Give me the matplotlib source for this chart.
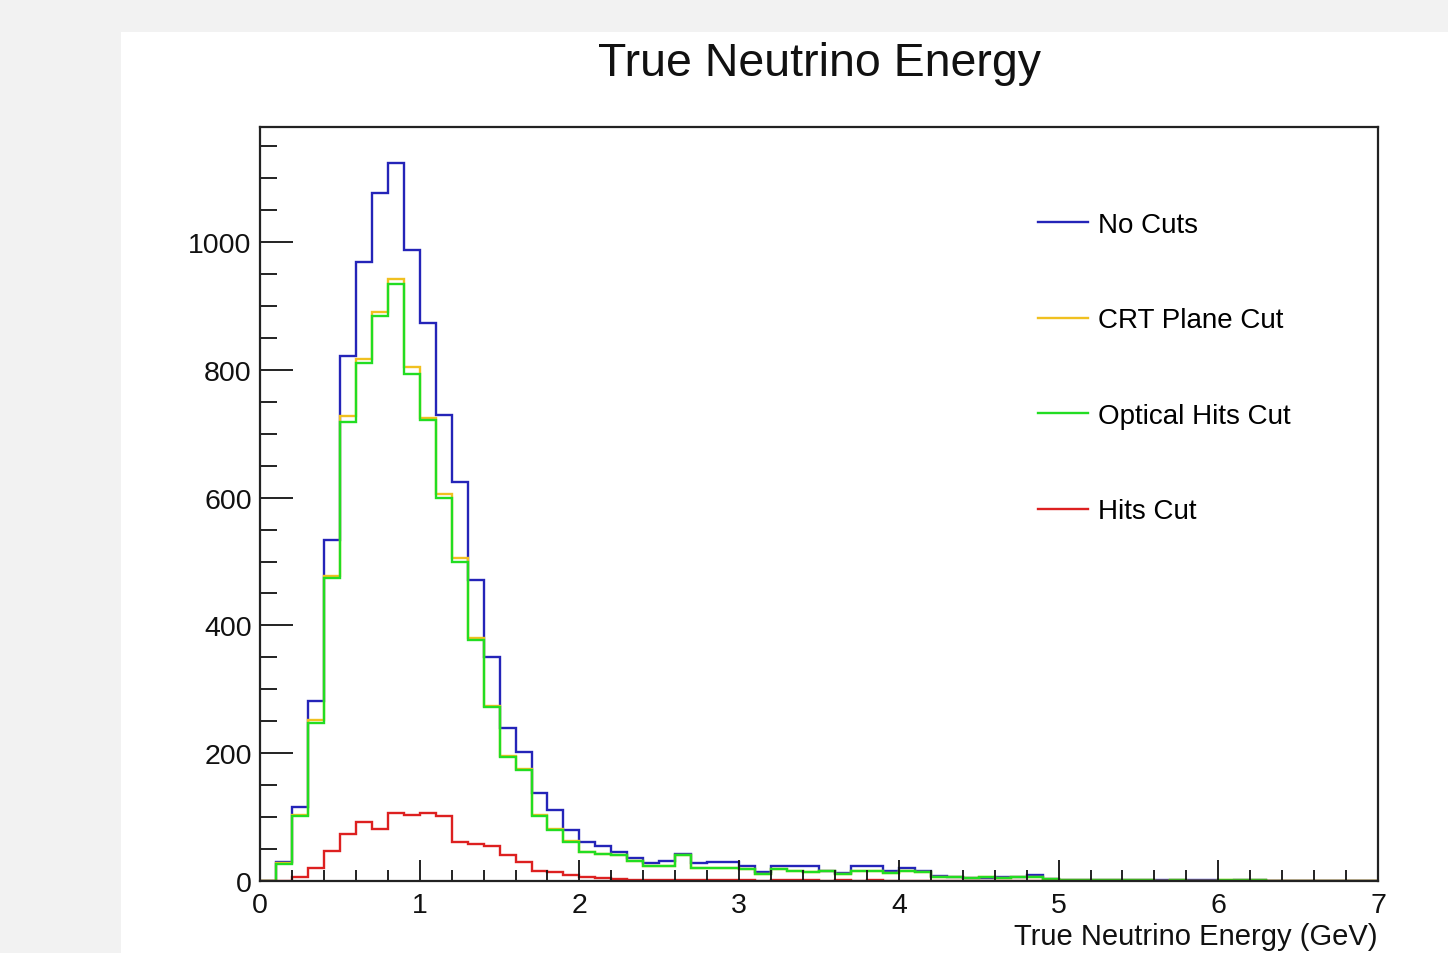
import numpy as np
from matplotlib import pyplot as plt
from matplotlib.ticker import MultipleLocator
from matplotlib.patches import Rectangle

plt.rcParams['font.family'] = ['Liberation Sans', 'DejaVu Sans']

# bins of 0.1 GeV from 0 to 7
edges = np.round(np.arange(0, 7.01, 0.1), 2)

no_cuts = [0, 29, 116, 282, 534, 822, 969, 1077, 1123, 987,
           873, 730, 625, 471, 351, 239, 202, 138, 111, 80,
           61, 54, 45, 36, 28, 32, 42, 28, 29, 29,
           24, 14, 23, 23, 23, 16, 12, 23, 23, 16,
           20, 15, 8, 6, 5, 5, 6, 7, 10, 3,
           2, 2, 1, 1, 1, 1, 2, 1, 2, 2,
           0, 1, 1, 0, 0, 0, 0, 0, 0, 0]

crt_cut = [0, 28, 103, 252, 478, 727, 817, 891, 942, 804,
           725, 605, 505, 380, 274, 196, 175, 103, 82, 62,
           46, 42, 40, 32, 24, 24, 40, 21, 21, 21,
           18, 11, 18, 16, 14, 16, 11, 16, 16, 12,
           16, 14, 7, 6, 5, 6, 5, 6, 6, 3,
           1, 1, 2, 2, 1, 1, 0, 1, 0, 0,
           1, 1, 1, 0, 0, 0, 0, 0, 0, 0]

optical_cut = [0, 27, 101, 248, 474, 719, 810, 885, 935, 793,
               721, 599, 499, 377, 272, 194, 173, 101, 80, 61,
               45, 42, 40, 32, 24, 24, 40, 21, 21, 21,
               18, 11, 18, 16, 14, 16, 11, 16, 16, 12,
               16, 14, 7, 6, 5, 6, 5, 6, 6, 3,
               1, 1, 2, 2, 1, 1, 0, 1, 0, 0,
               1, 1, 1, 0, 0, 0, 0, 0, 0, 0]

hits_cut = [0, 0, 6, 20, 47, 73, 92, 82, 106, 103,
            107, 101, 61, 58, 54, 41, 29, 16, 14, 9,
            6, 4, 3, 2, 2, 1, 1, 2, 1, 1,
            1, 0, 1, 1, 1, 0, 1, 0, 1, 0,
            0, 0, 0, 0, 0, 0, 0, 0, 0, 0,
            0, 0, 0, 0, 0, 0, 0, 0, 0, 0,
            0, 0, 0, 0, 0, 0, 0, 0, 0, 0]

labels = ["No Cuts", "CRT Plane Cut", "Optical Hits Cut", "Hits Cut"]
colores = ['#2424b8', '#f0c020', '#22dd22', '#dd2020']

fig = plt.figure(figsize=(14.48, 9.54), dpi=100)
fig.patch.set_facecolor('#f2f2f2')
# lienzo blanco
fig.patches.append(Rectangle((121/1448, 0), 1, 1 - 33/954, transform=fig.transFigure,
                             facecolor='white', edgecolor='none', zorder=-5))

ax = fig.add_axes([260/1448, 1 - 882/954, (1378-260)/1448, (882-128)/954])
ax.set_facecolor('white')

series = [no_cuts, crt_cut, optical_cut, hits_cut]
for vals, lab, col in zip(series, labels, colores):
    ax.stairs(vals, edges, color=col, linewidth=1.7, label=lab)

ax.set_xlim(0, 7)
ax.set_ylim(0, 1180)
ax.set_xticks([0, 1, 2, 3, 4, 5, 6, 7])
ax.xaxis.set_minor_locator(MultipleLocator(0.2))
ax.set_yticks([0, 200, 400, 600, 800, 1000])
ax.yaxis.set_minor_locator(MultipleLocator(50))
ax.tick_params(axis='both', which='both', direction='in', top=False, right=False,
               labelsize=20.5, colors='#111111')
ax.tick_params(axis='y', which='major', length=24, width=1.3, pad=6)
ax.tick_params(axis='y', which='minor', length=12, width=1.3)
ax.tick_params(axis='x', which='major', length=15, width=1.3, pad=8)
ax.tick_params(axis='x', which='minor', length=8, width=1.3)
for s in ax.spines.values():
    s.set_linewidth(1.6)
    s.set_color('#222222')

fig.text(819/1448, 1 - 64/954, "True Neutrino Energy", ha='center', va='center',
         fontsize=33.5, color='#111111')
fig.text(1378/1448, 1 - 937/954, "True Neutrino Energy (GeV)", ha='right', va='center',
         fontsize=21, color='#111111')

leg = ax.legend(loc='upper left', bbox_to_anchor=(1038/1448, 1 - 213/954),
                bbox_transform=fig.transFigure, frameon=False, fontsize=20,
                handlelength=1.8, handletextpad=0.35, labelspacing=2.5,
                borderpad=0, borderaxespad=0)
for h in leg.legend_handles:
    h.set_linewidth(1.7)

plt.savefig('out.png', dpi=100, facecolor=fig.get_facecolor())
